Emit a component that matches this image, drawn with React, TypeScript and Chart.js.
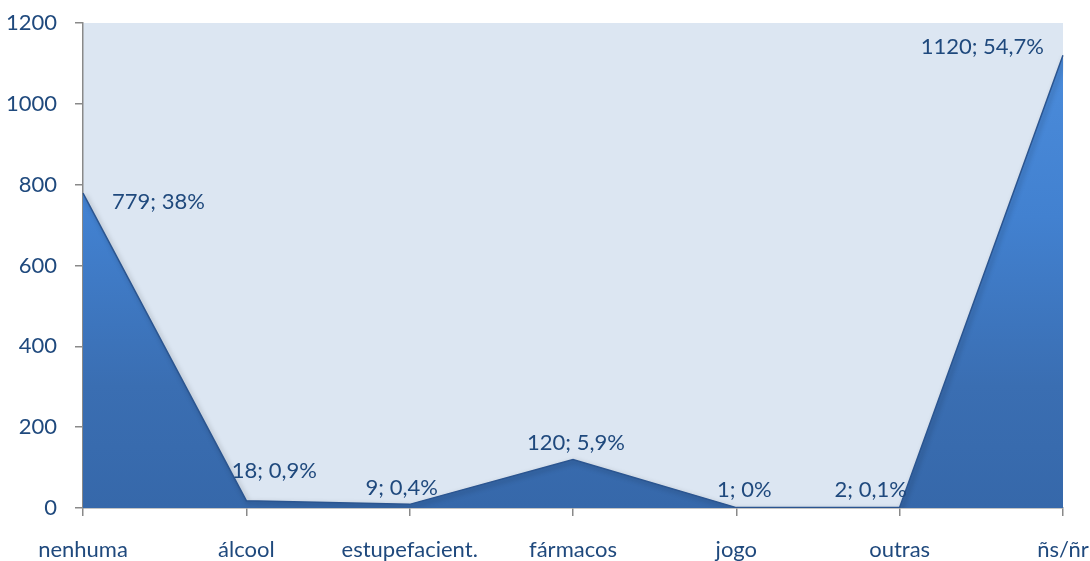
import React, { useEffect, useRef } from "react";
import { Chart, registerables } from "chart.js";

Chart.register(...registerables);

// Categories and counts
const categories = ["nenhuma", "álcool", "estupefacient.", "fármacos", "jogo", "outras", "ñs/ñr"];
const counts = [779, 18, 9, 120, 1, 2, 1120];

// Value axis ticks
const yMin = 0;
const yMax = 1200;
const yStep = 200;

const TEXT = "#1f497d";
const AXIS = "#898989";
const FONT = "Lato";

// Placement of each value label relative to its point
const labelPlacement: { align: CanvasTextAlign; dx: number; dy: number }[] = [
  { align: "left", dx: 29, dy: 9 },
  { align: "center", dx: 28, dy: -30 },
  { align: "center", dx: -8, dy: -16 },
  { align: "center", dx: 3, dy: -17 },
  { align: "center", dx: 8, dy: -18 },
  { align: "center", dx: -29, dy: -17 },
  { align: "right", dx: -19, dy: -8 },
];

const total = counts.reduce((a, b) => a + b, 0);
const formatPct = (v: number) => {
  const p = Math.round((v / total) * 1000) / 10;
  return String(p).replace(".", ",") + "%";
};

const plotBackground = {
  id: "plotBackground",
  beforeDraw(chart: Chart) {
    const { ctx, chartArea } = chart;
    ctx.save();
    ctx.fillStyle = "#dce6f2";
    ctx.fillRect(chartArea.left, chartArea.top, chartArea.right - chartArea.left, chartArea.bottom - chartArea.top);
    ctx.restore();
  },
};

const areaShadow = {
  id: "areaShadow",
  beforeDatasetDraw(chart: Chart) {
    const { ctx } = chart;
    ctx.save();
    ctx.shadowColor = "rgba(0,0,0,0.35)";
    ctx.shadowBlur = 5;
    ctx.shadowOffsetX = 2;
    ctx.shadowOffsetY = 2;
  },
  afterDatasetDraw(chart: Chart) {
    chart.ctx.restore();
  },
};

const valueLabels = {
  id: "valueLabels",
  afterDatasetsDraw(chart: Chart) {
    const { ctx } = chart;
    const meta = chart.getDatasetMeta(0);
    ctx.save();
    ctx.font = `22px ${FONT}`;
    ctx.fillStyle = TEXT;
    ctx.textBaseline = "middle";
    meta.data.forEach((pt: any, i: number) => {
      const v = counts[i];
      const place = labelPlacement[i];
      ctx.textAlign = place.align;
      ctx.fillText(`${v}; ${formatPct(v)}`, pt.x + place.dx, pt.y + place.dy);
    });
    ctx.restore();
  },
};

export default function App() {
  const canvasRef = useRef<HTMLCanvasElement | null>(null);

  useEffect(() => {
    const canvas = canvasRef.current;
    if (!canvas) return;
    const chart = new Chart(canvas, {
      type: "line",
      data: {
        labels: categories,
        datasets: [
          {
            data: counts,
            fill: "origin",
            tension: 0,
            pointRadius: 0,
            borderWidth: 1.5,
            borderColor: "#2b5590",
            backgroundColor: (context: any) => {
              const area = context.chart.chartArea;
              if (!area) return "#3d74bd";
              const g = context.chart.ctx.createLinearGradient(0, area.top, 0, area.bottom);
              g.addColorStop(0, "#4d8edd");
              g.addColorStop(0.4, "#4281d0");
              g.addColorStop(0.75, "#3a6eb2");
              g.addColorStop(1, "#3668aa");
              return g;
            },
          },
        ],
      },
      options: {
        responsive: false,
        animation: false,
        devicePixelRatio: 1,
        layout: { padding: { top: 23, right: 27, left: 0, bottom: 0 } },
        plugins: {
          legend: { display: false },
          tooltip: { enabled: false },
        },
        scales: {
          x: {
            type: "category",
            offset: false,
            grid: {
              drawOnChartArea: false,
              drawTicks: true,
              tickLength: 8,
              color: AXIS,
              lineWidth: 1.5,
            },
            border: { display: true, color: AXIS, width: 1.5 },
            ticks: {
              color: TEXT,
              font: { family: FONT, size: 22 },
              padding: 21,
              maxRotation: 0,
              autoSkip: false,
            },
            afterFit: (scale: any) => {
              scale.height = 53;
              scale.paddingLeft = 0;
              scale.paddingRight = 0;
            },
          },
          y: {
            min: yMin,
            max: yMax,
            grid: {
              drawOnChartArea: false,
              drawTicks: true,
              tickLength: 8,
              color: AXIS,
              lineWidth: 1.5,
            },
            border: { display: true, color: AXIS, width: 1.5 },
            ticks: {
              stepSize: yStep,
              color: TEXT,
              font: { family: FONT, size: 22 },
              padding: 18,
              callback: (value: any) => String(value),
            },
            afterFit: (scale: any) => {
              scale.width = 83;
              scale.paddingTop = 0;
              scale.paddingBottom = 0;
            },
          },
        },
      },
      plugins: [plotBackground, areaShadow, valueLabels],
    });
    return () => chart.destroy();
  }, []);

  return (
    <div style={{ position: "fixed", left: 0, top: 0, width: 1090, height: 561, background: "#ffffff" }}>
      <canvas ref={canvasRef} width={1090} height={561} style={{ display: "block" }} />
    </div>
  );
}
